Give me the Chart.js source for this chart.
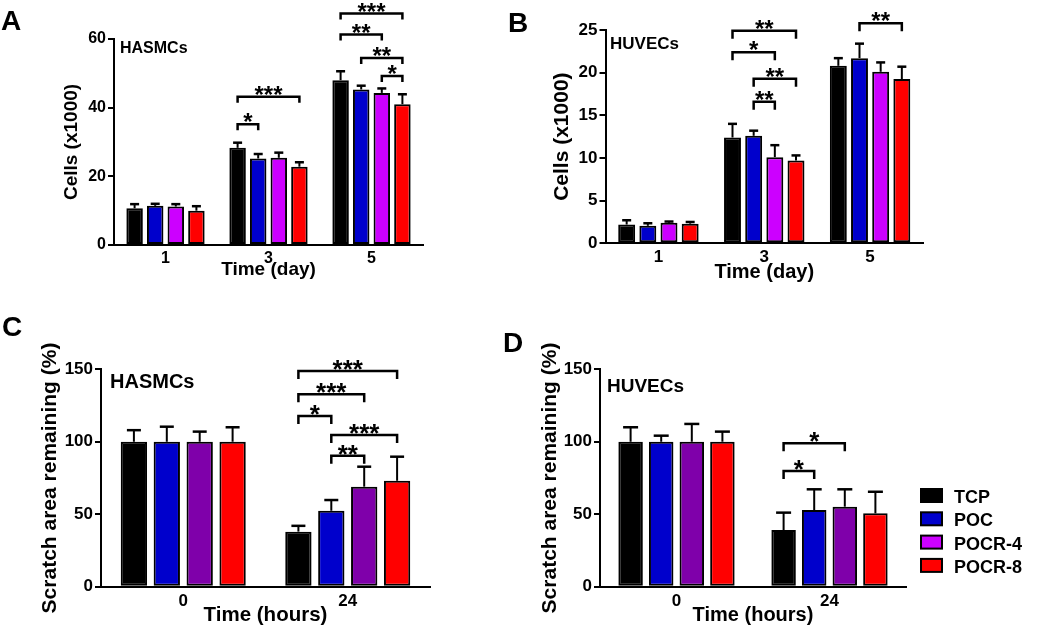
<!DOCTYPE html>
<html lang="en">
<head>
<meta charset="UTF-8" />
<title>Cell proliferation and scratch assay</title>
<script src="https://cdn.jsdelivr.net/npm/chart.js@4.4.1/dist/chart.umd.min.js"></script>
<style>
  body { margin: 0; background: #fff; width: 1050px; height: 627px; overflow: hidden; position: relative; }
  .panel { position: absolute; }
</style>
</head>
<body>
<div class="panel" style="left:0;top:0;width:500px;height:300px"><canvas id="chartA"></canvas></div>
<div class="panel" style="left:500px;top:0;width:500px;height:300px"><canvas id="chartB"></canvas></div>
<div class="panel" style="left:0;top:310px;width:500px;height:317px"><canvas id="chartC"></canvas></div>
<div class="panel" style="left:500px;top:310px;width:550px;height:317px"><canvas id="chartD"></canvas></div>
<script>
const FONT = "'Liberation Sans', Arial, sans-serif"

const seriesNames = ['TCP', 'POC', 'POCR-4', 'POCR-8']
const colorsAB = ['#000000', '#0000cc', '#cc00ff', '#ff0000']
const colorsCD = ['#000000', '#0000cc', '#7f00aa', '#ff0000']
const legendColors = ['#000000', '#0000cc', '#cc00ff', '#ff0000']

const dayLabels = ['1', '3', '5']
const hourLabels = ['0', '24']

const yTicksA = [0, 20, 40, 60]
const yTicksB = [0, 5, 10, 15, 20, 25]
const yTicksCD = [0, 50, 100, 150]

// rows = series (TCP, POC, POCR-4, POCR-8), columns = categories
const aMean = [[10.7, 28.3, 48.0], [11.4, 25.2, 45.3], [11.2, 25.4, 44.3], [10.0, 22.8, 41.0]]
const aSd = [[1.2, 1.5, 2.6], [0.6, 1.3, 1.1], [0.7, 1.5, 1.3], [1.3, 1.3, 2.9]]
const bMean = [[2.2, 12.4, 20.8], [2.05, 12.6, 21.7], [2.4, 10.1, 20.1], [2.3, 9.7, 19.25]]
const bSd = [[0.5, 1.6, 0.9], [0.3, 0.6, 1.7], [0.15, 1.4, 1.1], [0.2, 0.6, 1.45]]
const cMean = [[100, 38.0], [100, 52.4], [100, 69.0], [100, 73.1]]
const cSd = [[8, 4], [10.4, 7.4], [7, 13.8], [10, 16.6]]
const dMean = [[100, 39.1], [100, 52.9], [100, 55.2], [100, 50.6]]
const dSd = [[10, 12], [4.2, 14.3], [12.3, 12], [7, 14.9]]

// [category, from series, to series, bracket height, mark]
const aSig = [[1, 0, 1, 35.2, '*'], [1, 0, 3, 43.2, '***'], [2, 0, 3, 67.4, '***'], [2, 0, 2, 61.3, '**'], [2, 1, 3, 54.5, '**'], [2, 2, 3, 49.2, '*']]
const bSig = [[1, 0, 3, 24.9, '**'], [1, 0, 2, 22.4, '*'], [1, 1, 3, 19.3, '**'], [1, 1, 2, 16.6, '**'], [2, 1, 3, 25.8, '**']]
const cSig = [[1, 0, 3, 148.8, '***'], [1, 0, 2, 132.8, '***'], [1, 0, 1, 117.8, '*'], [1, 1, 3, 104.7, '***'], [1, 1, 2, 90.4, '**']]
const dSig = [[1, 0, 2, 99, '*'], [1, 0, 1, 79.8, '*']]

const bold = (size, lineHeight) => ({ family: FONT, size: size, weight: 'bold', lineHeight: lineHeight || 1.2 })

function decor(p) {
  return {
    id: 'decor',
    afterDatasetsDraw(chart) {
      const ctx = chart.ctx
      const y = chart.scales.y
      ctx.save()
      ctx.strokeStyle = '#000'
      ctx.fillStyle = '#000'
      // error bars (upper half only)
      chart.data.datasets.forEach((ds, i) => {
        chart.getDatasetMeta(i).data.forEach((bar, j) => {
          const top = y.getPixelForValue(ds.data[j] + p.sd[i][j])
          ctx.lineWidth = 2
          ctx.beginPath()
          ctx.moveTo(bar.x, bar.y)
          ctx.lineTo(bar.x, top)
          ctx.stroke()
          ctx.lineWidth = 2.5
          ctx.beginPath()
          ctx.moveTo(bar.x - p.cap, top)
          ctx.lineTo(bar.x + p.cap, top)
          ctx.stroke()
        })
      })
      // significance brackets
      ctx.lineWidth = 2.5
      ctx.textAlign = 'center'
      ctx.textBaseline = 'alphabetic'
      ctx.font = 'bold ' + p.star + 'px ' + FONT
      p.sig.forEach(([c, a, b, v, mark]) => {
        const x1 = chart.getDatasetMeta(a).data[c].x
        const x2 = chart.getDatasetMeta(b).data[c].x
        const py = y.getPixelForValue(v)
        ctx.beginPath()
        ctx.moveTo(x1, py + p.leg)
        ctx.lineTo(x1, py)
        ctx.lineTo(x2, py)
        ctx.lineTo(x2, py + p.leg)
        ctx.stroke()
        ctx.fillText(mark, (x1 + x2) / 2, py + p.starDy)
      })
      ctx.restore()
    },
    afterDraw(chart) {
      const ctx = chart.ctx
      ctx.save()
      ctx.fillStyle = '#000'
      ctx.textAlign = 'left'
      ctx.textBaseline = 'alphabetic'
      ctx.font = 'bold 28px ' + FONT
      ctx.fillText(p.letter[0], p.letter[1], p.letter[2])
      ctx.font = 'bold ' + p.tag[3] + 'px ' + FONT
      ctx.fillText(p.tag[0], p.tag[1], p.tag[2])
      if (p.legend) {
        const L = p.legend
        ctx.font = 'bold ' + L.size + 'px ' + FONT
        seriesNames.forEach((name, i) => {
          const top = L.top + i * L.step
          ctx.fillStyle = '#000'
          ctx.fillRect(L.x, top, L.w, L.h)
          ctx.fillStyle = legendColors[i]
          ctx.fillRect(L.x + 2, top + 2, L.w - 4, L.h - 4)
          ctx.fillStyle = '#000'
          ctx.fillText(name, L.tx, top + L.h)
        })
      }
      ctx.restore()
    },
  }
}

function panel(id, p) {
  const el = document.getElementById(id)
  const W = el.parentNode.clientWidth
  const H = el.parentNode.clientHeight
  const t = p.yTicks
  return new Chart(el, {
    type: 'bar',
    data: {
      labels: p.labels,
      datasets: p.mean.map((m, i) => ({
        label: seriesNames[i],
        data: m,
        backgroundColor: p.colors[i],
        borderColor: '#000',
        borderWidth: 2,
        borderSkipped: false,
        categoryPercentage: 0.8,
        barPercentage: 0.8,
      })),
    },
    options: {
      responsive: true,
      maintainAspectRatio: false,
      animation: false,
      events: [],
      layout: { padding: { left: 0, top: p.area.t, right: W - p.area.r, bottom: 0 } },
      plugins: { legend: { display: false }, tooltip: { enabled: false } },
      scales: {
        x: {
          grid: { display: false, drawTicks: false },
          border: { display: true, color: '#000', width: 2 },
          ticks: { color: '#000', font: bold(p.xTick), padding: p.xTickPad },
          title: {
            display: true,
            text: p.xTitle,
            color: '#000',
            font: bold(p.xTitleSize, 1),
            padding: { top: 0, bottom: p.xTitleOff - p.xTitleSize / 2 },
          },
          afterFit: (s) => { s.height = H - p.area.b },
        },
        y: {
          min: t[0],
          max: t[t.length - 1],
          ticks: { stepSize: t[1] - t[0], color: '#000', font: bold(p.yTick), padding: 2 },
          grid: { drawOnChartArea: false, drawTicks: true, tickLength: 6, color: '#000', lineWidth: 2 },
          border: { display: true, color: '#000', width: 2 },
          title: {
            display: true,
            text: p.yTitle,
            color: '#000',
            font: bold(p.yTitleSize, 1),
            padding: { top: p.yTitleX - p.yTitleSize / 2, bottom: 0 },
          },
          afterFit: (s) => { s.width = p.area.l },
        },
      },
    },
    plugins: [decor(p)],
  })
}

panel('chartA', {
  labels: dayLabels, mean: aMean, sd: aSd, sig: aSig, colors: colorsAB, yTicks: yTicksA,
  area: { l: 114, t: 39, r: 423, b: 245 },
  yTitle: 'Cells (x1000)', yTitleSize: 19, yTitleX: 71.5,
  xTitle: 'Time (day)', xTitleSize: 19, xTitleOff: 30,
  xTick: 16, xTickPad: 4, yTick: 16,
  letter: ['A', 1, 30], tag: ['HASMCs', 120, 52.7, 16],
  cap: 4.5, leg: 6, star: 24, starDy: 6.3,
})

panel('chartB', {
  labels: dayLabels, mean: bMean, sd: bSd, sig: bSig, colors: colorsAB, yTicks: yTicksB,
  area: { l: 105.5, t: 30, r: 423, b: 243.3 },
  yTitle: 'Cells (x1000)', yTitleSize: 21, yTitleX: 62.5,
  xTitle: 'Time (day)', xTitleSize: 20, xTitleOff: 27.6,
  xTick: 17, xTickPad: 4, yTick: 17,
  letter: ['B', 8, 32], tag: ['HUVECs', 110, 49.3, 17],
  cap: 4.5, leg: 8, star: 24, starDy: 6.3,
})

panel('chartC', {
  labels: hourLabels, mean: cMean, sd: cSd, sig: cSig, colors: colorsCD, yTicks: yTicksCD,
  area: { l: 101, t: 59.3, r: 430, b: 276.7 },
  yTitle: 'Scratch area remaining (%)', yTitleSize: 21, yTitleX: 50,
  xTitle: 'Time (hours)', xTitleSize: 20.5, xTitleOff: 11.7,
  xTick: 17, xTickPad: 4, yTick: 17,
  letter: ['C', 2, 26], tag: ['HASMCs', 110, 78, 20],
  cap: 7, leg: 8, star: 26, starDy: 7.2,
})

panel('chartD', {
  labels: hourLabels, mean: dMean, sd: dSd, sig: dSig, colors: colorsCD, yTicks: yTicksCD,
  area: { l: 100, t: 59.3, r: 406, b: 276.7 },
  yTitle: 'Scratch area remaining (%)', yTitleSize: 21, yTitleX: 50,
  xTitle: 'Time (hours)', xTitleSize: 20, xTitleOff: 11.7,
  xTick: 17, xTickPad: 4, yTick: 17,
  letter: ['D', 3, 42], tag: ['HUVECs', 107, 82, 19],
  cap: 7.5, leg: 8, star: 26, starDy: 7.2,
  legend: { x: 420, w: 23, h: 15, top: 178, step: 23.3, tx: 454, size: 18 },
})
</script>
</body>
</html>
